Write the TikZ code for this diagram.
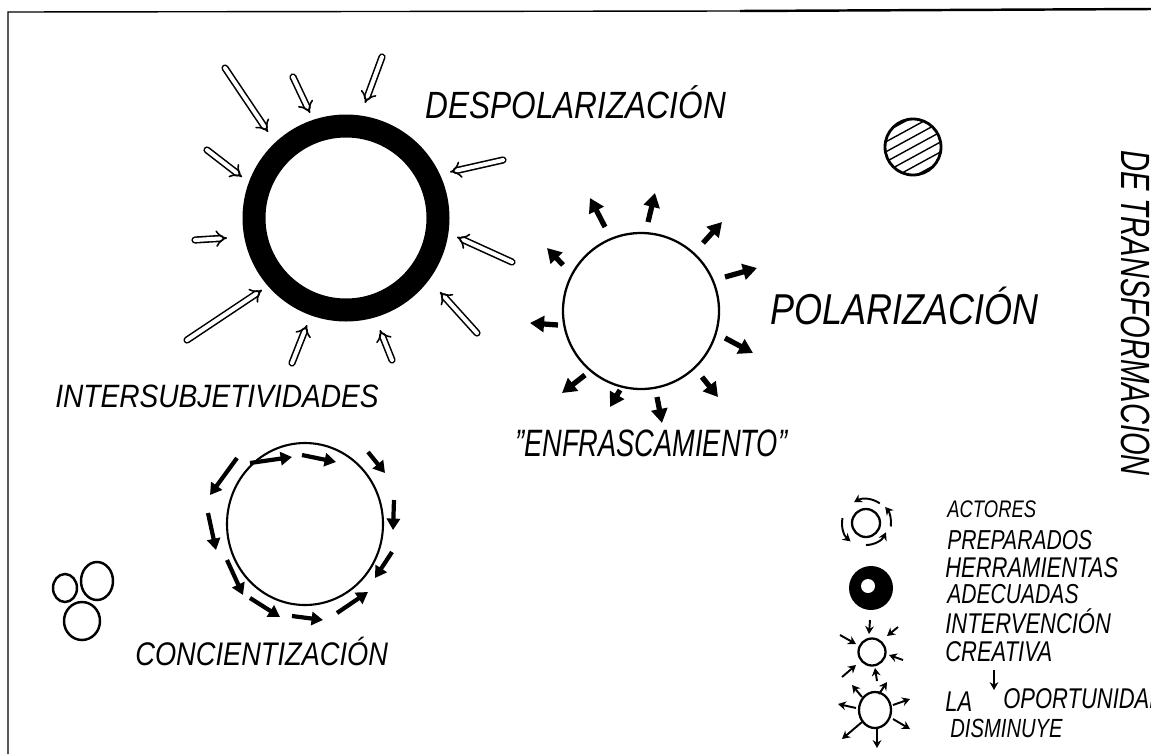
\documentclass[tikz,border=0pt]{standalone}
\usepackage{fontspec}
\setmainfont{Liberation Sans}
\usepackage{graphicx}
\usetikzlibrary{arrows.meta, positioning}
\newcommand{\tallcaps}[2][1.4]{\scalebox{1}[#1]{#2}}
\newcommand{\handsize}[1]{\fontsize{#1}{#1}\selectfont\itshape}

\tikzset{
  pen/.style={line width=1.3pt, line cap=round},
  inarrow/.style={line width=0.9pt, double, double distance=2.3pt, -Implies, line cap=round},
  outarrow/.style={line width=3pt, -{Triangle[length=8pt, width=9pt]}},
  flowarrow/.style={line width=2.4pt, -{Triangle[length=6.5pt, width=7.5pt]}},
  tinyarrow/.style={line width=1.1pt, -{Stealth[length=4.5pt, width=5pt]}},
  hand/.style={inner sep=0pt, anchor=base west},
}

\begin{document}
\begin{tikzpicture}[x=0.02cm, y=-0.02cm]
  \useasboundingbox (0,0) rectangle (1151,754);
  \fill[white] (0,0) rectangle (1151,754);
  % Page frame
  \draw[line width=0.8pt] (8,754) -- (8,12) -- (740,11);
  \draw[line width=1.4pt] (740,11) -- (1151,9);

  % Despolarizacion: thick ring, arrows coming in
  \coordinate (despring) at (346,218);
  \draw[line width=0.46cm] (despring) circle[radius=92];
  \foreach \sx/\sy/\ex/\ey in {225/68/268/132, 293/77/310/113, 382/57/365/103,
      207/150/242/177, 195/240/227/238, 187/340/262/290, 292/363/307/325,
      392/360/380/330, 477/333/440/292, 512/262/457/237, 503/160/450/172}
    \draw[inarrow] (\sx,\sy) -- (\ex,\ey);

  % Polarizacion: thin circle, arrows going out
  \coordinate (polring) at (641,311);
  \draw[pen] (polring) circle[radius=78];
  \foreach \sx/\sy/\ex/\ey in {563/265/547/248, 605/227/590/198, 648/222/655/193,
      703/243/722/222, 725/277/757/268, 725/338/753/353, 702/377/718/397,
      657/397/662/423, 620/390/610/407, 585/375/562/393, 558/325/530/323}
    \draw[outarrow] (\sx,\sy) -- (\ex,\ey);

  % Concientizacion: circle with arrows running round it
  \coordinate (conring) at (305,524);
  \draw[line width=1.2pt] (conring) circle[x radius=78, y radius=81];
  \foreach \sx/\sy/\ex/\ey in {237/458/210/495, 250/463/292/457, 302/455/336/462,
      368/452/385/473, 394/500/393/530, 392/552/375/578, 337/613/368/592,
      292/616/323/620, 250/598/280/617, 227/560/243/595, 208/513/216/550}
    \draw[flowarrow] (\sx,\sy) -- (\ex,\ey);

  % Hatched circle
  \begin{scope}
    \clip (913,147) circle[radius=28];
    \foreach \c in {117,127,...,177}
      \draw[line width=0.8pt] (880,\c+18) -- (946,\c-18);
  \end{scope}
  \draw[line width=1.6pt] (913,147) circle[radius=28];

  % Three small circles
  \draw[line width=1.4pt] (65,588) circle[x radius=12, y radius=14];
  \draw[line width=1.4pt] (97,581) circle[x radius=16, y radius=19];
  \draw[line width=1.4pt] (82,621) circle[x radius=18, y radius=19];

  % Labels
  \node[hand, font=\handsize{18}] (despol) at (425,118) {\tallcaps[1.2]{DESPOLARIZACIÓN}};
  \node[hand, font=\handsize{20.5}] (polar) at (770,324) {\tallcaps[1.2]{POLARIZACIÓN}};
  \node[hand, font=\handsize{16}] (intersub) at (55,407) {\tallcaps[1.15]{INTERSUBJETIVIDADES}};
  \node[hand, font=\handsize{15.5}] (enfras) at (515,456) {\tallcaps[1.4]{"ENFRASCAMIENTO"}};
  \node[hand, font=\handsize{15.5}] (concien) at (135,665) {\tallcaps[1.2]{CONCIENTIZACIÓN}};
  \node[hand, rotate=-90, font=\handsize{16.6}] (transf) at (1121,150) {\tallcaps[1.4]{DE TRANSFORMACION}};

  % Legend icons
  \coordinate (act) at (866,523);
  \draw[pen] (act) circle[radius=14];
  \draw[tinyarrow] ([shift={(-55:24)}]act) arc[start angle=-55, end angle=-120, radius=24];
  \draw[tinyarrow] ([shift={(192:24)}]act) arc[start angle=192, end angle=130, radius=24];
  \draw[tinyarrow] ([shift={(90:22)}]act) arc[start angle=90, end angle=25, radius=22];
  \draw[tinyarrow] ([shift={(8:25)}]act) arc[start angle=8, end angle=-40, radius=25];

  \coordinate (herr) at (871,588);
  \fill (herr) circle[radius=22];
  \fill[white] (868,586) circle[radius=7];

  \coordinate (inter) at (872,652);
  \draw[pen] (inter) circle[radius=13.5];
  \foreach \sx/\sy/\ex/\ey in {870/620/869/634, 898/627/887/636, 840/635/856/644,
      903/660/889/655, 842/677/856/665, 877/681/875/668}
    \draw[tinyarrow] (\sx,\sy) -- (\ex,\ey);

  \coordinate (opor) at (875,710);
  \draw[pen] (opor) circle[x radius=16, y radius=18];
  \foreach \sx/\sy/\ex/\ey in {862/697/852/685, 879/694/887/682, 856/708/838/704,
      893/705/910/699, 893/719/910/729, 862/722/842/739, 877/729/877/748}
    \draw[tinyarrow] (\sx,\sy) -- (\ex,\ey);

  % Legend texts
  \node[hand, font=\handsize{10.5}] (act1) at (947,517) {\tallcaps[1.3]{ACTORES}};
  \node[hand, font=\handsize{12}] (act2) at (947,549) {\tallcaps[1.3]{PREPARADOS}};
  \node[hand, font=\handsize{12.5}] (herr1) at (945,577) {\tallcaps[1.3]{HERRAMIENTAS}};
  \node[hand, font=\handsize{12}] (herr2) at (947,603) {\tallcaps[1.3]{ADECUADAS}};
  \node[hand, font=\handsize{12.5}] (inter1) at (945,633) {\tallcaps[1.3]{INTERVENCIÓN}};
  \node[hand, font=\handsize{12.5}] (inter2) at (945,661) {\tallcaps[1.3]{CREATIVA}};
  \node[hand, font=\handsize{12.5}] (la) at (945,711) {\tallcaps[1.3]{LA}};
  \node[hand, font=\handsize{12.5}] (oport) at (1003,708) {\tallcaps[1.3]{OPORTUNIDAD}};
  \node[hand, font=\handsize{11.5}] (dism) at (950,737) {\tallcaps[1.3]{DISMINUYE}};
  \coordinate (arrtop) at (994,670);
  \coordinate (arrend) at (994,690);
  \draw[tinyarrow] (arrtop) -- (arrend);
\end{tikzpicture}
\end{document}
